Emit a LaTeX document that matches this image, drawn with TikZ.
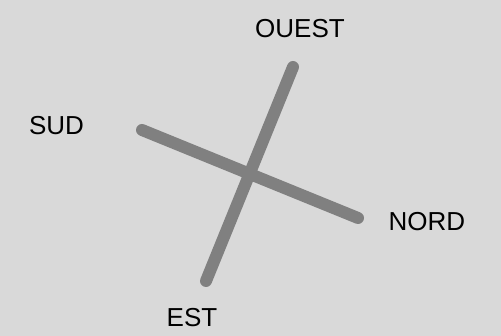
\documentclass[tikz,border=0pt]{standalone}
\usepackage{fontspec}
\setmainfont{Liberation Sans}
\usepackage{xcolor}
\definecolor{bggrey}{HTML}{D9D9D9}
\definecolor{armgrey}{HTML}{808080}

\begin{document}
\begin{tikzpicture}[
        x=1pt, y=-1pt,
        arm/.style={draw=armgrey, line width=12pt, line cap=round},
        lbl/.style={font=\fontsize{26}{30}\selectfont, text=black, inner sep=0pt},
      ]

      % Background
      \fill[bggrey] (0,0) rectangle (501,336);
      \useasboundingbox (0,0) rectangle (501,336);

      % Arm ends
      \coordinate (top) at (293,67);
      \coordinate (bottom) at (206,281);
      \coordinate (left) at (142,130);
      \coordinate (right) at (358,218);

      % Labels
      \node[lbl] (ouest) at (300,29) {OUEST};
      \node[lbl] (sud) at (56.5,125.5) {SUD};
      \node[lbl] (nord) at (427,221.5) {NORD};
      \node[lbl] (est) at (192,318) {EST};

      % Arms
      \draw[arm] (top) -- (bottom);
      \draw[arm] (left) -- (right);

      \end{tikzpicture}
\end{document}
